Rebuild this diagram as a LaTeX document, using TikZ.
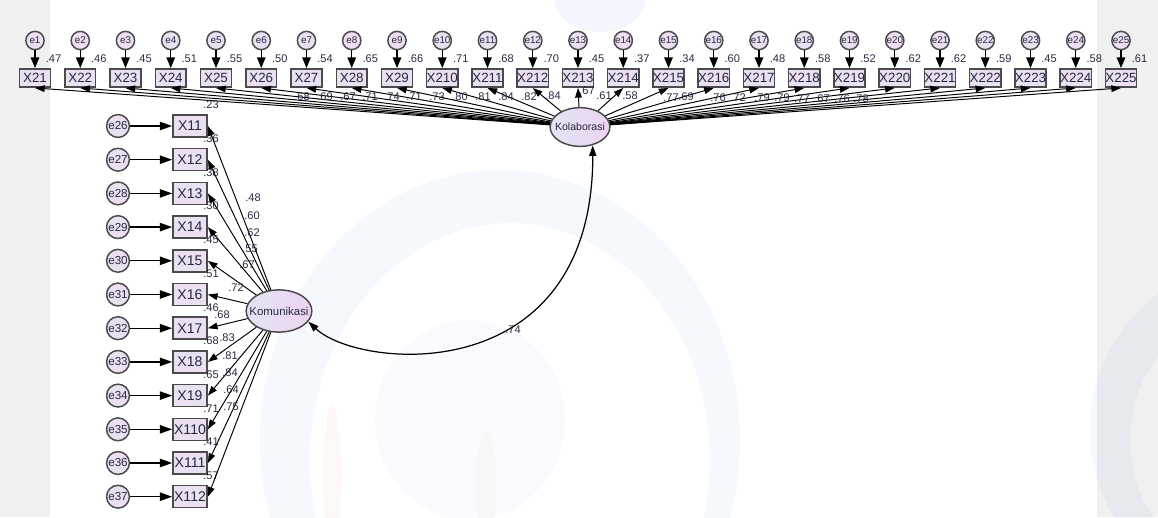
\documentclass[tikz,border=0pt]{standalone}
\usepackage{fontspec}
\setmainfont{Liberation Sans}
\usepackage{tikz}
\usetikzlibrary{arrows.meta,shapes.geometric}
\definecolor{boxfill}{RGB}{234,224,241}
\definecolor{latleft}{RGB}{226,228,243}
\definecolor{latright}{RGB}{238,212,242}
\definecolor{bordergray}{RGB}{75,75,75}
\definecolor{txt}{RGB}{40,40,65}
\definecolor{stripgray}{RGB}{240,240,240}
\definecolor{wmblue}{RGB}{60,110,220}
\definecolor{wmred}{RGB}{235,100,40}
\tikzset{
  obs/.style={draw=bordergray,line width=0.85pt,fill=boxfill,inner sep=0pt,
    minimum width=17.5pt,minimum height=10.5pt,font=\fontsize{7.6}{7.6}\selectfont,text=txt},
  obsl/.style={obs,minimum width=19.5pt,minimum height=12.5pt,font=\fontsize{8}{8}\selectfont},
  err/.style={circle,draw=bordergray,line width=0.85pt,fill=boxfill,inner sep=0pt,
    minimum size=10.4pt,font=\fontsize{5.6}{5.6}\selectfont,text=txt},
  errl/.style={err,minimum size=13pt,font=\fontsize{6.6}{6.6}\selectfont},
  lat/.style={ellipse,draw=bordergray,line width=0.85pt,left color=latleft,right color=latright,inner sep=0pt},
  val/.style={font=\fontsize{6.3}{6.3}\selectfont,text=txt,inner sep=0pt},
  erra/.style={line width=0.7pt,-{Triangle[length=6pt,width=4.8pt]}},
  erral/.style={line width=0.7pt,-{Triangle[length=7pt,width=4.8pt]}},
  fan/.style={line width=0.55pt,-{Triangle[length=5.5pt,width=3.8pt]}},
  cov/.style={line width=0.7pt,{Triangle[length=6pt,width=4pt]}-{Triangle[length=6pt,width=4pt]}},
}

\begin{document}
\begin{tikzpicture}[x=0.02cm,y=-0.02cm]
\useasboundingbox (0,0) rectangle (1158,517);
% page strips
\fill[stripgray] (0,0) rectangle (50,517);
\fill[stripgray] (1097,0) rectangle (1158,517);
% faint logo behind the model
\begin{scope}
  \clip (0,0) rectangle (1158,517);
  \fill[wmblue,opacity=0.05,even odd rule] (500,440) ellipse (240 and 270) (510,460) ellipse (200 and 237);
  \fill[wmblue,opacity=0.03] (470,420) ellipse (95 and 100);
  \fill[wmblue,opacity=0.06] (600,0) ellipse (45 and 32);
  \fill[wmblue,opacity=0.05,even odd rule] (1260,430) circle (170) (1270,440) circle (140);
  \fill[wmred,opacity=0.04] (332,475) ellipse (9 and 70);
  \fill[wmred,opacity=0.03] (486,485) ellipse (10 and 55);
\end{scope}

% latent variables
\node[lat,minimum width=34pt,minimum height=22pt,
  label={[font=\fontsize{6}{6}\selectfont,text=txt]center:Kolaborasi}] (kol) at (580,127) {};
\node[lat,minimum width=37.4pt,minimum height=24pt,
  label={[font=\fontsize{6.5}{6.5}\selectfont,text=txt]center:Komunikasi}] (kom) at (279,311) {};

% indicators of Kolaborasi
\foreach \i/\r in {1/.47,2/.46,3/.45,4/.51,5/.55,6/.50,7/.54,8/.65,9/.66,10/.71,11/.68,12/.70,13/.45,
                   14/.37,15/.34,16/.60,17/.48,18/.58,19/.52,20/.62,21/.62,22/.59,23/.45,24/.58,25/.61} {
  \node[err] (e\i) at ({35+(\i-1)*45.25},40.5) {e\i};
  \node[obs] (xk\i) at ({35+(\i-1)*45.25},78) {X2\i};
  \draw[erra] (e\i) -- (xk\i);
  \node[val,anchor=west] at ({45.5+(\i-1)*45.25},59) {\r};
}
\foreach \i in {1,...,25} \draw[fan] (kol) -- (xk\i.south);
\foreach \x/\y/\v in {302/97/.68,325/97/.69,348/97/.67,370/97/.71,392/97/.74,414/97/.71,437/97/.73,
                      460/97/.80,483/97/.81,506/97/.84,529/97/.82,553/96/.84,587/91/.67,604/96/.61,
                      630/96/.58,671/98/.77,686/97/.69,718/98/.76,738/98/.72,762/98/.79,782/98/.79,
                      802/99/.77,822/99/.67,842/99/.76,861/99/.78}
  \node[val] at (\x,\y) {\v};

% indicators of Komunikasi
\foreach \k/\r in {1/.23,2/.36,3/.38,4/.30,5/.45,6/.51,7/.46,8/.68,9/.65,10/.71,11/.41,12/.57} {
  \pgfmathtruncatemacro\n{25+\k}
  \pgfmathsetmacro\yy{126+(\k-1)*33.7}
  \node[errl] (e\n) at (118,\yy) {e\n};
  \node[obsl] (xm\k) at (190,\yy) {X1\k};
  \draw[erral] (e\n) -- (xm\k);
  \node[val] at (211,\yy-21) {\r};
}
\foreach \k in {1,...,12} \draw[fan] (kom) -- (xm\k.east);
\foreach \x/\y/\v in {253/198/.48,252/216/.60,252/233/.62,250/249/.55,247/265/.67,236/288/.72,
                      222/315/.68,227/338/.83,230/356/.81,230/373/.84,231/390/.64,231/407/.75}
  \node[val] at (\x,\y) {\v};

% correlation
\draw[cov] (kom.-20) .. controls (360,370) and (593,390) .. (kol.-55);
\node[val] at (513,330) {.74};
\end{tikzpicture}
\end{document}
